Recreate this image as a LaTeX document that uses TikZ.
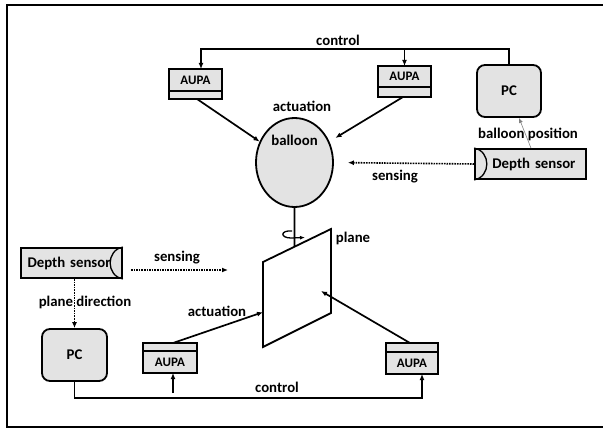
\documentclass[tikz,border=0pt]{standalone}
\usepackage{fontspec}
\setmainfont{Carlito}
\usetikzlibrary{arrows.meta,shapes.geometric,calc}
\definecolor{boxgray}{HTML}{E3E3E3}
\tikzset{
  lbl/.style={font=\fontsize{14.8}{16}\selectfont\bfseries, inner sep=0pt},
  boxline/.style={draw=black, line width=1.8pt, fill=boxgray},
  aupatext/.style={boxline, outer sep=0pt, minimum width=53pt, minimum height=22pt, inner sep=0pt,
    font=\fontsize{13}{14}\selectfont\bfseries},
  aupastrip/.style={boxline, outer sep=0pt, minimum width=53pt, minimum height=8pt, inner sep=0pt},
  pcbox/.style={boxline, rounded corners=8pt, minimum width=64pt, minimum height=52pt,
    inner sep=0pt, font=\fontsize{14.8}{16}\selectfont\bfseries},
  sensorbox/.style={boxline, minimum width=111pt, minimum height=30pt, inner sep=0pt,
    font=\fontsize{14.8}{16}\selectfont\bfseries},
  arr/.style={line width=1.7pt, -{Latex[length=6pt,width=5pt]}},
  dotarr/.style={line width=1.6pt, densely dotted, -{Latex[length=6pt,width=5pt]}},
  thinarr/.style={line width=0.6pt, draw=gray, -{Latex[length=5pt,width=4pt]}},
  plain/.style={line width=1.8pt}
}
\begin{document}
\begin{tikzpicture}[x=1pt,y=-1pt]
\useasboundingbox (0,0) rectangle (603,428);
% frame
\draw[line width=2.2pt] (603,5) -- (7,5) -- (7,427) -- (603,427);

% top part
\node[pcbox] (pcT) at (509,91) {PC};
\node[aupatext] (aTL) at (195.5,80) {AUPA};
\node[aupastrip, anchor=north] (aTLs) at (aTL.south) {};
\node[aupatext, minimum height=21pt] (aTR) at (404.5,76.5) {AUPA};
\node[aupastrip, minimum height=10pt, anchor=north] (aTRs) at (aTR.south) {};
\node[ellipse, boxline, minimum width=77pt, minimum height=89pt, inner sep=0pt] (balloon) at (294.5,162.5) {};
\node[lbl] (balloonlbl) at (294.5,140) {balloon};
\node[sensorbox, text width=90pt, align=right] (dsR) at (530.5,164) {Depth sensor};
\draw[line width=1.3pt] (dsR.north west) .. controls +(17,3) and +(17,-3) .. (dsR.south west);

\coordinate (ct) at (201,49);
\draw[arr] (pcT.north) |- (ct) -- (ct |- aTL.north);
\draw[arr] (aTR.north |- ct) -- (aTR.north);
\node[lbl] (ctrlT) at (338,40) {control};
\node[lbl] (actT) at (302,106) {actuation};
\draw[arr] ([xshift=1.5pt]aTLs.south) -- (balloon.149);
\draw[arr, shorten >=7pt] ([xshift=-1.5pt]aTRs.south) -- (balloon.31);
\draw[dotarr, shorten >=14pt] (dsR.west) -- (balloon.east);
\node[lbl] (sensT) at (395,177) {sensing};
\draw[thinarr] ([xshift=0.5pt]dsR.north) -- ([xshift=10pt]pcT.south);
\node[lbl] (bpos) at (528,134) {balloon position};

% plane
\coordinate (pLT) at (263,262);
\coordinate (pRT) at (331,229);
\coordinate (pRB) at (331,313);
\coordinate (pLB) at (263,347);
\draw[plain, line join=miter] (pLT) -- (pRT) -- (pRB) -- (pLB) -- cycle;
\node[lbl] (planelbl) at (353,238) {plane};
\coordinate (tp) at ($(pLT)!0.463!(pRT)$);
\draw[plain] (balloon.south) -- (tp);
\draw[line width=1.3pt, -{Latex[length=5pt,width=4pt]}] (292,231) .. controls (280,230) and (280,238) .. (291,238) -- (305,237.5);

% bottom part
\node[sensorbox, minimum width=101pt, text width=88pt, align=left] (dsL) at (71.5,263) {Depth sensor};
\draw[line width=1.3pt] (dsL.north east) .. controls +(-17,3) and +(-17,-3) .. (dsL.south east);
\node[pcbox, minimum width=65pt] (pcB) at (74.5,355) {PC};
\node[aupastrip, minimum width=54pt, anchor=south] (aBLs) at (170,351) {};
\node[aupatext, minimum width=54pt, anchor=north] (aBL) at (aBLs.south) {AUPA};
\node[aupastrip, minimum width=52pt, minimum height=9pt, anchor=south] (aBRs) at (412,352) {};
\node[aupatext, minimum width=52pt, anchor=north] (aBR) at (aBRs.south) {AUPA};

\coordinate (sEnd) at (228,270);
\draw[dotarr] ([xshift=8pt,yshift=-7pt]dsL.east) -- (sEnd);
\node[lbl] (sensB) at (177,258) {sensing};
\draw[dotarr] (pcB.north |- dsL.south) -- (pcB.north);
\node[lbl] (pdir) at (85,302) {plane direction};

\coordinate (pt1) at (321,291);
\draw[arr] ([xshift=-2pt]aBRs.north) -- (pt1);
\coordinate (pe) at ($(pLT)!0.59!(pLB)$);
\draw[arr] ([xshift=3pt]aBLs.north) -- (pe);
\node[lbl] (actB) at (217,311) {actuation};

\coordinate (cb) at (422,398);
\draw[arr] (pcB.south) |- (cb) -- (cb |- aBR.south);
\coordinate (cb2) at (173,393);
\draw[arr] (cb2) -- (cb2 |- aBL.south);
\node[lbl] (ctrlB) at (277,387) {control};
\end{tikzpicture}
\end{document}
